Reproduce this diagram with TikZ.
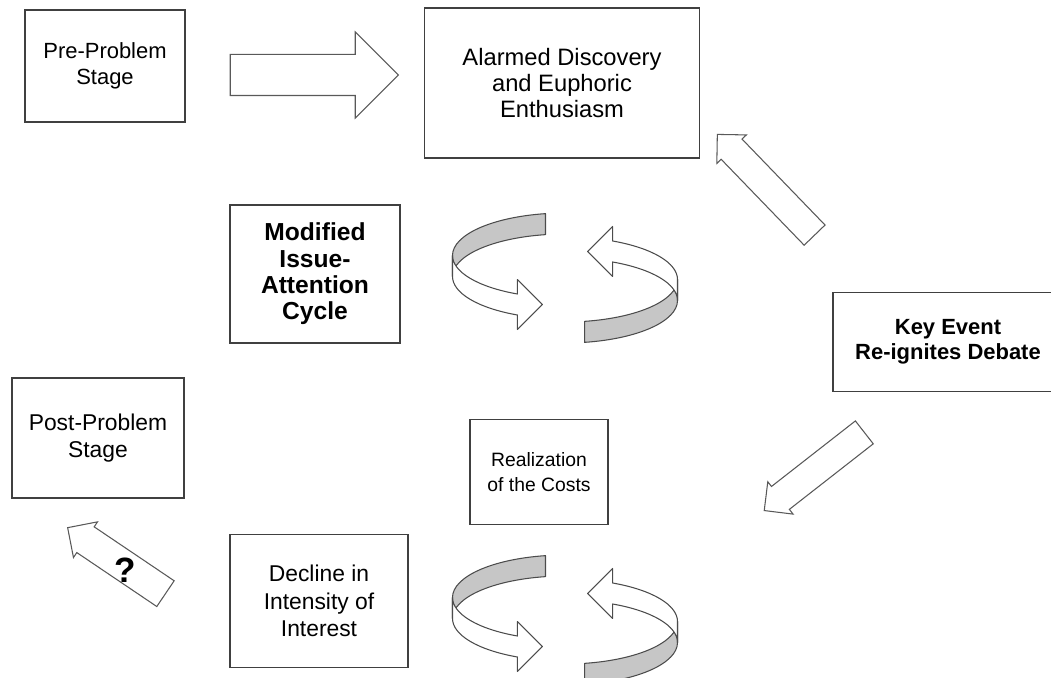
\documentclass[tikz,border=0pt]{standalone}
\usepackage{fontspec}
\setmainfont{Liberation Sans}
\usetikzlibrary{shapes.arrows}

\begin{document}
\begin{tikzpicture}[
  stagebox/.style={draw=black!75, line width=0.8pt, align=center, inner sep=2pt},
  hollowarrow/.style={single arrow, draw=black!65, line width=0.6pt, fill=white, inner xsep=0pt},
  ribbon/.style={draw=black!70, line width=0.6pt, line join=round},
  pics/cycle/.style={code={
    \foreach \turn in {0,180} {
      \begin{scope}[rotate=\turn, shift={(0,0.45)}]
        % far side of the loop, shaded
        \filldraw[ribbon, fill=gray!45] (100:2.25cm and 0.85cm)
          arc[start angle=100, end angle=180, x radius=2.25, y radius=0.85]
          -- ++(0,-0.42)
          arc[start angle=180, end angle=100, x radius=2.25, y radius=0.85] -- cycle;
        % near side, ending in the head
        \filldraw[ribbon, fill=white] (180:2.25cm and 0.85cm)
          arc[start angle=180, end angle=245, x radius=2.25, y radius=0.85]
          -- ++(0,0.29) -- ++(0.5,-0.5) -- ++(-0.5,-0.5) -- ++(0,0.29)
          arc[start angle=245, end angle=180, x radius=2.25, y radius=0.85] -- cycle;
      \end{scope}
    }
  }}
]
  \useasboundingbox (0,0) rectangle (21.02,13.54);

  % stages
  \node[stagebox, minimum width=3.2cm, minimum height=2.24cm, font=\fontsize{12.5}{14.5}\selectfont]
    (pre) at (2.1,12.22) {Pre-Problem\\Stage};
  \node[stagebox, minimum width=5.5cm, minimum height=3cm, font=\fontsize{13.5}{15}\selectfont]
    (alarm) at (11.24,11.88) {Alarmed Discovery\\and Euphoric\\Enthusiasm};
  \node[stagebox, minimum width=3.4cm, minimum height=2.76cm, font=\bfseries\fontsize{14}{15}\selectfont]
    (modified) at (6.3,8.06) {Modified\\Issue-\\Attention\\Cycle};
  \node[stagebox, minimum width=4.6cm, minimum height=1.98cm, font=\bfseries\fontsize{12.5}{14}\selectfont]
    (keyevent) at (18.96,6.7) {Key Event\\Re-ignites Debate};
  \node[stagebox, minimum width=3.44cm, minimum height=2.4cm, font=\fontsize{13}{15}\selectfont]
    (post) at (1.96,4.78) {Post-Problem\\Stage};
  \node[stagebox, minimum width=2.76cm, minimum height=2.1cm, font=\fontsize{11}{14.5}\selectfont]
    (costs) at (10.78,4.1) {Realization\\of the Costs};
  \node[stagebox, minimum width=3.56cm, minimum height=2.66cm, font=\fontsize{13}{15.5}\selectfont]
    (decline) at (6.38,1.52) {Decline in\\Intensity of\\Interest};

  % hollow arrows between the stages (height = length, inner ysep = half the shaft)
  \node[hollowarrow, minimum height=3.36cm, inner ysep=0.4cm, single arrow head extend=0.45cm]
    (toalarm) at (6.08,12.04) {};
  \node[hollowarrow, minimum height=2.8cm, inner ysep=0.28cm, single arrow head extend=0.12cm, rotate=134]
    (backup) at (15.42,9.74) {};
  \node[hollowarrow, minimum height=2.54cm, inner ysep=0.28cm, single arrow head extend=0.12cm, rotate=218]
    (backdown) at (16.4,4.2) {};
  \node[hollowarrow, minimum height=2.36cm, inner ysep=0.3cm, single arrow head extend=0.12cm, rotate=146]
    (topost) at (2.46,2.24) {};
  \node[font=\bfseries\fontsize{20}{20}\selectfont] (unsure) at (2.5,2.14) {?};

  % turning loops
  \pic at (11.3,7.98) {cycle};
  \pic at (11.3,1.14) {cycle};
\end{tikzpicture}
\end{document}
